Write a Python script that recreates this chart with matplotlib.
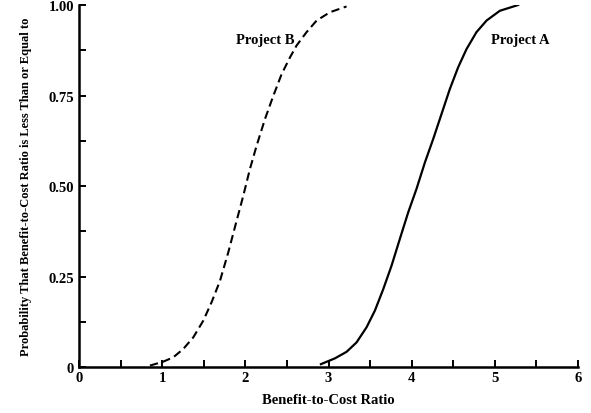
import matplotlib
matplotlib.use("Agg")
import matplotlib.pyplot as plt
from matplotlib.ticker import MultipleLocator, FixedLocator

# Project B (dashed)
b_x = [0.853, 1.014, 1.134, 1.254, 1.374, 1.494, 1.594, 1.695, 1.795, 1.895, 1.975,
       2.055, 2.135, 2.236, 2.336, 2.436, 2.536, 2.616, 2.736, 2.857, 3.017, 3.217]
b_y = [0.004, 0.015, 0.027, 0.050, 0.082, 0.128, 0.179, 0.238, 0.317, 0.404, 0.473,
       0.547, 0.611, 0.685, 0.749, 0.809, 0.855, 0.888, 0.925, 0.957, 0.980, 0.996]
# Project A (solid)
a_x = [2.909, 3.077, 3.217, 3.337, 3.458, 3.558, 3.658, 3.758, 3.858, 3.958, 4.058,
       4.159, 4.259, 4.359, 4.459, 4.559, 4.659, 4.779, 4.900, 5.060, 5.280]
a_y = [0.008, 0.024, 0.042, 0.068, 0.110, 0.156, 0.215, 0.280, 0.354, 0.427, 0.492,
       0.565, 0.630, 0.699, 0.768, 0.828, 0.878, 0.925, 0.957, 0.984, 1.000]

x_ticks = [0, 1, 2, 3, 4, 5, 6]
y_ticks = [0, 0.25, 0.50, 0.75, 1.00]
y_tick_labels = ["0", "0.25", "0.50", "0.75", "1.00"]

plt.rcParams['font.family'] = ['Liberation Serif', 'DejaVu Serif']
plt.rcParams['font.weight'] = 'bold'

fig = plt.figure(figsize=(5.91, 4.14), dpi=100)
ax = fig.add_axes([0.1337, 0.111, 0.8443, 0.8745])

ax.plot(b_x, b_y, color='black', lw=1.5, ls=(0, (4, 2.2)))
ax.plot(a_x, a_y, color='black', lw=1.6)

ax.set_xlim(0, 6)
ax.set_ylim(0, 1.0)

ax.xaxis.set_major_locator(FixedLocator(x_ticks))
ax.xaxis.set_minor_locator(MultipleLocator(0.5))
ax.yaxis.set_major_locator(FixedLocator(y_ticks))
ax.yaxis.set_minor_locator(MultipleLocator(0.125))
ax.set_xticklabels([str(v) for v in x_ticks])
ax.set_yticklabels(y_tick_labels)

ax.tick_params(which='both', direction='in', length=5, width=1.4, labelsize=10.5)
ax.tick_params(axis='x', which='major', pad=3)
ax.tick_params(axis='y', which='major', pad=3.5)

for s in ['top', 'right']:
    ax.spines[s].set_visible(False)
for s in ['left', 'bottom']:
    ax.spines[s].set_linewidth(1.8)

ax.text(2.24, 0.906, "Project B", ha='center', va='center', fontsize=10.5, fontweight='bold')
ax.text(5.31, 0.906, "Project A", ha='center', va='center', fontsize=10.5, fontweight='bold')

ax.set_xlabel("Benefit-to-Cost Ratio", fontsize=10.5, fontweight='bold', labelpad=6)
ax.set_ylabel("Probability That Benefit-to-Cost Ratio is Less Than or Equal to",
              fontsize=9, fontweight='bold', labelpad=12)

fig.savefig("out.png", dpi=100)
